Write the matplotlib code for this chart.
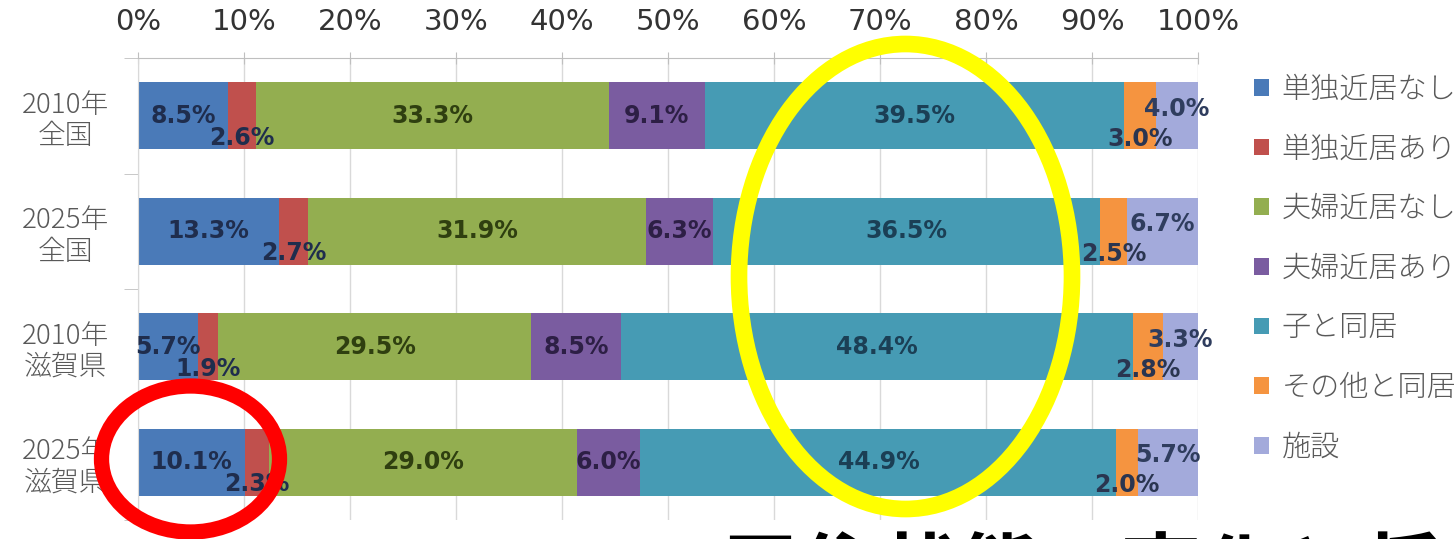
import matplotlib
matplotlib.use("Agg")
import matplotlib.pyplot as plt
from matplotlib.patches import Ellipse
from matplotlib.font_manager import FontProperties
import numpy as np

# data (percent shares)
categories = ["2010年\n全国", "2025年\n全国", "2010年\n滋賀県", "2025年\n滋賀県"]
series_names = ["単独近居なし", "単独近居あり", "夫婦近居なし", "夫婦近居あり",
                "子と同居", "その他と同居", "施設"]
single_no = [8.5, 13.3, 5.7, 10.1]
single_near = [2.6, 2.7, 1.9, 2.3]
couple_no = [33.3, 31.9, 29.5, 29.0]
couple_near = [9.1, 6.3, 8.5, 6.0]
with_child = [39.5, 36.5, 48.4, 44.9]
with_other = [3.0, 2.5, 2.8, 2.0]
facility = [4.0, 6.7, 3.3, 5.7]
xticks = [0, 10, 20, 30, 40, 50, 60, 70, 80, 90, 100]

values = [single_no, single_near, couple_no, couple_near, with_child, with_other, facility]
colors = ["#4A7AB8", "#C0504D", "#93AE50", "#7A5CA0", "#469BB4", "#F59440", "#A3AADB"]
label_colors = ["#1F2D4D", "#1F2D4D", "#2F3F10", "#2D1F45", "#1B3F55", "#2A3550", "#2F3D5E"]
# vertical nudge of the value labels, like the hand-placed labels in the original
label_dy = [0, 0.19, 0, 0, 0, 0.2, -0.06]

W, H = 1456, 539
fig = plt.figure(figsize=(W / 100, H / 100), dpi=100)
ax = fig.add_axes([138 / W, 1 - 520 / H, 1060 / W, 462 / H])

narrow = ["DejaVu Sans"]
jp = ["Noto Sans CJK JP", "DejaVu Sans"]

data = np.array(values)
totals = data.sum(axis=0)
shares = data / totals * 100
y = np.arange(len(categories))
left = np.zeros(len(categories))
for i, name in enumerate(series_names):
	ax.barh(y, shares[i], left=left, height=0.58, color=colors[i], label=name, zorder=2)
	for j in range(len(categories)):
		ax.text(left[j] + shares[i][j] / 2, y[j] + label_dy[i], "%.1f%%" % data[i][j],
			ha="center", va="center", fontsize=17, fontweight="bold",
			color=label_colors[i], family=narrow, zorder=3)
	left += shares[i]

ax.set_xlim(0, 100)
ax.set_ylim(3.5, -0.5)
ax.xaxis.tick_top()
ax.set_xticks(xticks)
ax.set_xticklabels(["%d%%" % t for t in xticks], family=narrow, fontsize=21, color="#333333")
ax.tick_params(axis="x", which="major", length=8, direction="inout", color="#BFBFBF", pad=12)
ax.set_yticks(y)
ax.set_yticklabels(categories, family=jp, fontweight="light", fontsize=20, color="#595959",
	linespacing=1.15, multialignment="center")
ax.tick_params(axis="y", which="major", length=0, pad=21)
ax.set_yticks(np.arange(-0.5, 4, 1), minor=True)
ax.tick_params(axis="y", which="minor", length=10, color="#BFBFBF")
ax.grid(axis="x", color="#D9D9D9", lw=1, zorder=0)
ax.set_axisbelow(True)
for s in ["right", "bottom"]:
	ax.spines[s].set_visible(False)
ax.spines["top"].set_color("#BFBFBF")
ax.spines["left"].set_color("#D9D9D9")

leg = fig.legend(loc="center left", bbox_to_anchor=(1254 / W, 1 - 268.5 / H), frameon=False,
	prop=FontProperties(family=jp, weight="light", size=21), handlelength=0.5, handleheight=0.5,
	handletextpad=0.45, labelspacing=1.0, borderpad=0, borderaxespad=0)
for t in leg.get_texts():
	t.set_color("#595959")

# highlight rings drawn on top of the chart
fig.add_artist(Ellipse((190.5 / W, 1 - 459 / H), 178 / W, 146 / H, transform=fig.transFigure,
	fill=False, ec="#FF0000", lw=11, zorder=10))
fig.add_artist(Ellipse((905.5 / W, 1 - 276.5 / H), 333 / W, 465 / H, transform=fig.transFigure,
	fill=False, ec="#FFFF00", lw=12, zorder=10))

# heading below the chart, mostly cut off by the frame edge
fig.text(718 / W, -61 / H, "居住状態の変化と将来推計", fontsize=58, fontweight="bold",
	family=jp, va="baseline", color="black")

fig.savefig("out.png", dpi=100)
